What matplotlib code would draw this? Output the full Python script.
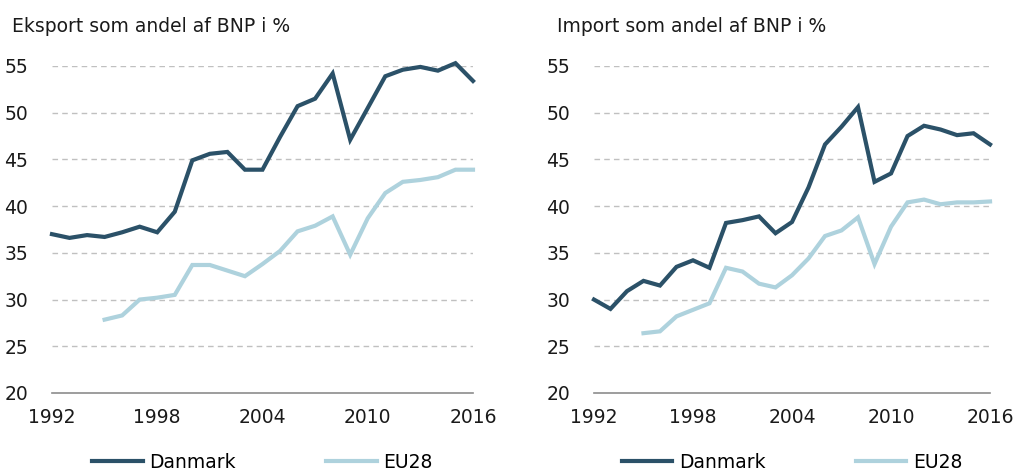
import matplotlib
matplotlib.use("Agg")
import matplotlib.pyplot as plt

# data
years = list(range(1992, 2017))
eu_years = list(range(1995, 2017))

eksport_dk = [37.0, 36.6, 36.9, 36.7, 37.2, 37.8, 37.2, 39.4, 44.9, 45.6, 45.8, 43.9, 43.9,
              47.4, 50.7, 51.5, 54.2, 47.1, 50.5, 53.9, 54.6, 54.9, 54.5, 55.3, 53.4]
eksport_eu = [27.85, 28.3, 30.0, 30.2, 30.5, 33.7, 33.7, 33.1, 32.5, 33.8, 35.2, 37.3, 37.9,
              38.9, 34.8, 38.7, 41.4, 42.6, 42.8, 43.1, 43.9, 43.9]
import_dk = [30.0, 29.0, 30.9, 32.0, 31.5, 33.5, 34.2, 33.4, 38.2, 38.5, 38.9, 37.1, 38.3,
             42.0, 46.6, 48.5, 50.6, 42.6, 43.5, 47.5, 48.6, 48.2, 47.6, 47.8, 46.6]
import_eu = [26.4, 26.6, 28.2, 28.9, 29.6, 33.4, 33.0, 31.7, 31.3, 32.6, 34.4, 36.8, 37.4,
             38.8, 33.8, 37.8, 40.4, 40.7, 40.2, 40.4, 40.4, 40.5]

titles = ["Eksport som andel af BNP i %", "Import som andel af BNP i %"]
series_names = ["Danmark", "EU28"]
xticks = [1992, 1998, 2004, 2010, 2016]
yticks = [20, 25, 30, 35, 40, 45, 50, 55]

dark = "#2b5168"
light = "#aed2dd"

plt.rcParams['font.family'] = ['DejaVu Sans']

fig = plt.figure(figsize=(10.15, 4.72), dpi=100)

panels = [
    ([0.0512, 0.1674, 0.4148, 0.6928], eksport_dk, eksport_eu, 12 / 1015),
    ([0.5852, 0.1674, 0.3902, 0.6928], import_dk, import_eu, 557 / 1015),
]

for i, (rect, dk, eu, tx) in enumerate(panels):
    ax = fig.add_axes(rect)
    l1, = ax.plot(years, dk, color=dark, lw=3, clip_on=False, solid_joinstyle='miter', zorder=3)
    l2, = ax.plot(eu_years, eu, color=light, lw=3, clip_on=False, solid_joinstyle='miter', zorder=3)
    ax.set_xlim(1992, 2016)
    ax.set_ylim(20, 55)
    ax.set_xticks(xticks)
    ax.set_yticks(yticks)
    ax.tick_params(length=0, labelsize=13.5, colors="#1a1a1a")
    ax.tick_params(axis='y', pad=17)
    ax.tick_params(axis='x', pad=11)
    for y in yticks[1:]:
        ax.axhline(y, color="#c0c0c0", lw=1, ls=(0, (4, 3)), zorder=1)
    for s in ["top", "right", "left"]:
        ax.spines[s].set_visible(False)
    ax.spines["bottom"].set_color("#8c8c8c")
    ax.spines["bottom"].set_linewidth(1.2)
    fig.text(tx, 0.943, titles[i], fontsize=13.5, color="#1a1a1a", va="center", ha="left")
    ax.legend([l1, l2], series_names, loc="center", bbox_to_anchor=(0.5, -0.212),
              ncol=2, frameon=False, fontsize=13.5, handlelength=2.7, handletextpad=0.35,
              columnspacing=4.8, borderpad=0)

fig.savefig("out.png", dpi=100)
